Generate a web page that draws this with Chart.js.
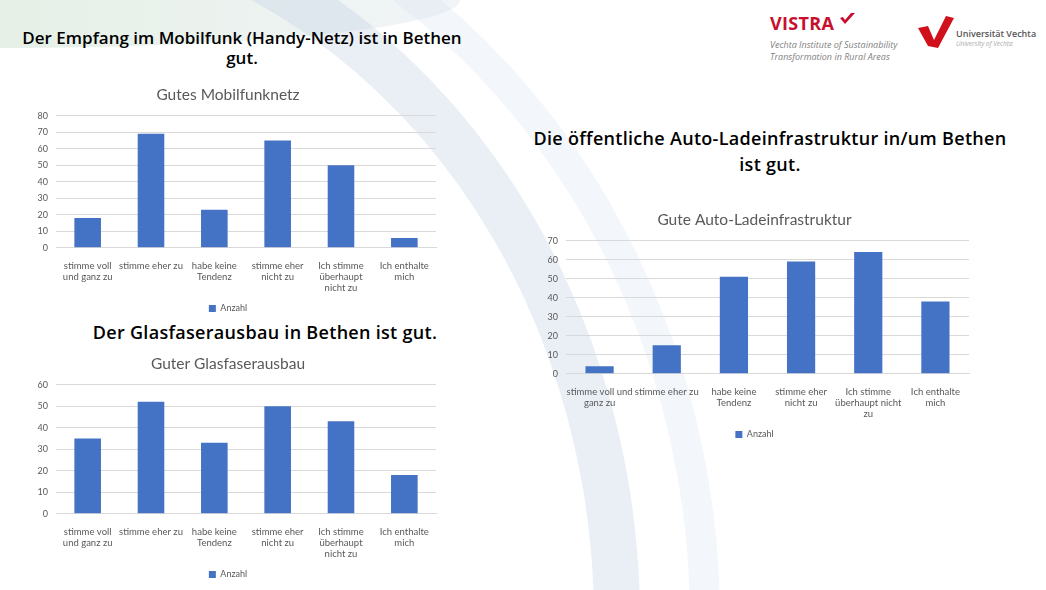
<!DOCTYPE html>
<html>
<head>
<meta charset="utf-8">
<script src="https://cdn.jsdelivr.net/npm/chart.js@4"></script>
<style>
  body { margin: 0; width: 1046px; height: 590px; position: relative; overflow: hidden; background: #fff; font-family: "Open Sans", sans-serif; }
  .swoosh { position: absolute; left: -640px; top: -110px; width: 1280px; height: 1460px; border-radius: 50%;
    border: 46px solid rgba(190, 205, 228, 0.32); box-sizing: border-box; }
  .swoosh2 { position: absolute; left: -700px; top: -160px; width: 1420px; height: 1560px; border-radius: 50%;
    border: 30px solid rgba(215, 226, 240, 0.3); box-sizing: border-box; }
  .band { position: absolute; left: 0; top: 0; width: 460px; height: 48px;
    background: linear-gradient(90deg, rgba(200,222,200,0.45), rgba(215,225,235,0.35)); border-bottom-right-radius: 100% 100%; }
  .head { position: absolute; font-weight: 600; font-size: 18px; color: #000; text-align: center; line-height: 20px; letter-spacing: 0.3px; white-space: nowrap; }
  canvas { position: absolute; }
  .vistra { position: absolute; left: 770px; top: 11px; color: #c8102e; font: bold 18px "Open Sans", sans-serif; letter-spacing: 0.3px; }
  .vsub { position: absolute; left: 770px; top: 39px; color: #7f7f7f; font: italic 9px "Open Sans", sans-serif; line-height: 12px; }
  .uni { position: absolute; left: 956px; top: 27px; color: #555; font: 600 9px "Open Sans", sans-serif; }
  .unisub { position: absolute; left: 956px; top: 39px; color: #aaa; font: italic 6.5px "Open Sans", sans-serif; }
</style>
</head>
<body>
<div class="band"></div>
<div class="swoosh2"></div>
<div class="swoosh"></div>

<div class="head" style="left:20px; top:28px; width:444px; font-size:17px; letter-spacing:0;">Der Empfang im Mobilfunk (Handy-Netz) ist in Bethen<br>gut.</div>
<div class="head" style="left:70px; top:322px; width:390px;">Der Glasfaserausbau in Bethen ist gut.</div>
<div class="head" style="left:530px; top:125px; width:480px; line-height:26px;">Die öffentliche Auto-Ladeinfrastruktur in/um Bethen<br>ist gut.</div>

<div class="vistra">VISTRA</div>
<svg style="position:absolute;left:838px;top:12px" width="20" height="14"><path d="M2 6 L7 12 L17 1 L13 1 L7 8 L5 5 Z" fill="#c8102e"/></svg>
<div class="vsub">Vechta Institute of Sustainability<br>Transformation in Rural Areas</div>
<svg style="position:absolute;left:918px;top:14px" width="36" height="36"><path d="M0 14 L10 12 L16 26 L28 2 L36 4 L20 34 L10 32 Z" fill="#d0111b"/></svg>
<div class="uni">Universität Vechta</div>
<div class="unisub">University of Vechta</div>

<canvas id="c1" width="430" height="242" style="left:20px; top:81px;"></canvas>
<canvas id="c2" width="430" height="239" style="left:20px; top:350px;"></canvas>
<canvas id="c3" width="440" height="243" style="left:540px; top:206px;"></canvas>

<script>
const labelsA = [
  ['stimme voll', 'und ganz zu'],
  'stimme eher zu',
  ['habe keine', 'Tendenz'],
  ['stimme eher', 'nicht zu'],
  ['Ich stimme', 'überhaupt', 'nicht zu'],
  ['Ich enthalte', 'mich']
]
const labelsB = [
  ['stimme voll und', 'ganz zu'],
  'stimme eher zu',
  ['habe keine', 'Tendenz'],
  ['stimme eher', 'nicht zu'],
  ['Ich stimme', 'überhaupt nicht', 'zu'],
  ['Ich enthalte', 'mich']
]
const mobilfunk = [18, 69, 23, 65, 50, 6]
const glasfaser = [35, 52, 33, 50, 43, 18]
const ladeinfra = [4, 15, 51, 59, 64, 38]

const blue = '#4472C4'
const grey = '#595959'

function makeChart(id, title, labels, values, max, yWidth, padRight) {
  return new Chart(document.getElementById(id), {
    type: 'bar',
    data: {
      labels: labels,
      datasets: [{
        label: 'Anzahl',
        data: values,
        backgroundColor: blue,
        barPercentage: 0.42,
        categoryPercentage: 1,
      }],
    },
    options: {
      responsive: false,
      animation: false,
      layout: { padding: { right: padRight, left: 0 } },
      plugins: {
        title: {
          display: true,
          text: title,
          color: grey,
          font: { family: 'Lato', size: 15.5, weight: 'normal' },
          padding: { top: 5, bottom: 11 },
        },
        legend: {
          position: 'bottom',
          labels: { boxWidth: 7, boxHeight: 7, color: grey, font: { family: 'Lato', size: 9 }, padding: 6 },
        },
        tooltip: { enabled: false },
      },
      scales: {
        x: {
          grid: { display: false },
          border: { color: '#d9d9d9' },
          ticks: { color: grey, font: { family: 'Lato', size: 9.5 }, maxRotation: 0, autoSkip: false, padding: 4 },
        },
        y: {
          min: 0,
          max: max,
          ticks: { stepSize: 10, color: grey, font: { family: 'Lato', size: 9 }, padding: 8 },
          grid: { color: '#d9d9d9', drawTicks: false },
          border: { display: false },
          afterFit: (scale) => { scale.width = yWidth },
        },
      },
    },
  })
}

makeChart('c1', 'Gutes Mobilfunknetz', labelsA, mobilfunk, 80, 36, 14)
makeChart('c2', 'Guter Glasfaserausbau', labelsA, glasfaser, 60, 36, 14)
makeChart('c3', 'Gute Auto-Ladeinfrastruktur', labelsB, ladeinfra, 70, 26, 11)
</script>
</body>
</html>
